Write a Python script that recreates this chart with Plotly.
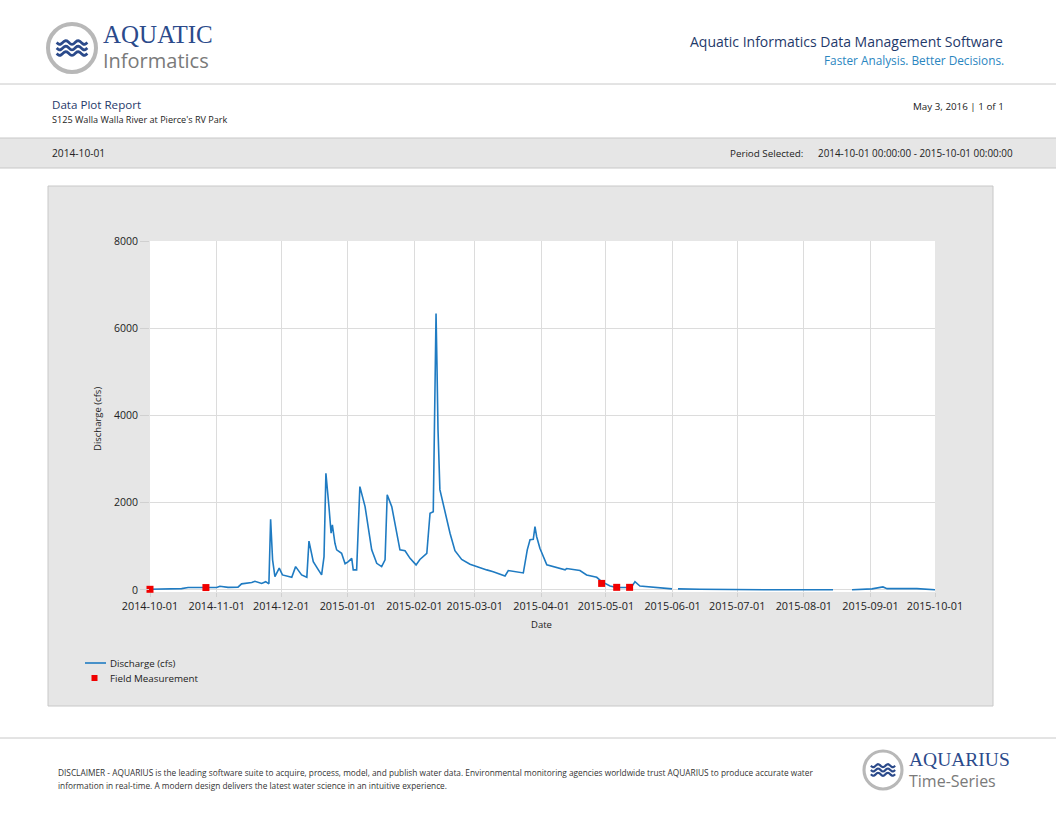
import numpy as np
import plotly.graph_objects as go

W, H = 1056, 816

# discharge series (None = gap in record)
dates = [
    '2014-10-01', '2014-10-15 17:00', '2014-10-18 17:00', '2014-10-27 10:00', '2014-11-01',
    '2014-11-02 12:00', '2014-11-06 07:00', '2014-11-10 22:00', '2014-11-12 14:00', '2014-11-17 07:00',
    '2014-11-18 19:00', '2014-11-21 22:00', '2014-11-23 19:00', '2014-11-25 07:00', '2014-11-26 02:00',
    '2014-11-27', '2014-11-28 02:00', '2014-11-30 02:00', '2014-12-01 14:00', '2014-12-05 22:00',
    '2014-12-07 17:00', '2014-12-10 12:00', '2014-12-12 22:00', '2014-12-13 22:00', '2014-12-15 22:00',
    '2014-12-18 07:00', '2014-12-19 19:00', '2014-12-20 22:00', '2014-12-21 19:00', '2014-12-23 05:00',
    '2014-12-24 05:00', '2014-12-24 19:00', '2014-12-26', '2014-12-26 19:00', '2014-12-29 02:00',
    '2014-12-30 17:00', '2015-01-01 05:00', '2015-01-02 19:00', '2015-01-03 12:00', '2015-01-05 02:00',
    '2015-01-06 14:00', '2015-01-09', '2015-01-10 12:00', '2015-01-12 02:00', '2015-01-14 10:00',
    '2015-01-16 17:00', '2015-01-18 07:00', '2015-01-19 07:00', '2015-01-21 10:00', '2015-01-23 17:00',
    '2015-01-25 05:00', '2015-01-27 14:00', '2015-01-29 22:00', '2015-02-01 17:00', '2015-02-03 12:00',
    '2015-02-06 17:00', '2015-02-08 05:00', '2015-02-09 17:00', '2015-02-10 12:00', '2015-02-11',
    '2015-02-11 10:00', '2015-02-11 22:00', '2015-02-12 19:00', '2015-02-15 05:00', '2015-02-17 12:00',
    '2015-02-19 19:00', '2015-02-22 22:00', '2015-02-26 19:00', '2015-03-01 22:00', '2015-03-06 14:00',
    '2015-03-09 14:00', '2015-03-15 02:00', '2015-03-16 14:00', '2015-03-22', '2015-03-23 14:00',
    '2015-03-25 10:00', '2015-03-26 17:00', '2015-03-28 05:00', '2015-03-29', '2015-03-29 19:00',
    '2015-03-31 07:00', '2015-04-03 12:00', '2015-04-07 07:00', '2015-04-12', '2015-04-12 17:00',
    '2015-04-15 19:00', '2015-04-18 22:00', '2015-04-22', '2015-04-26 17:00', '2015-04-29',
    '2015-05-02 22:00', '2015-05-06', '2015-05-12 05:00', '2015-05-13 02:00', '2015-05-14 12:00',
    '2015-05-16 19:00', '2015-05-21 12:00', '2015-05-31 17:00', '2015-06-01 12:00', '2015-06-03 12:00',
    '2015-06-13 17:00', '2015-07-15', '2015-08-14 14:00', '2015-08-18', '2015-08-23 10:00',
    '2015-09-01 17:00', '2015-09-06 19:00', '2015-09-08 17:00', '2015-09-22 14:00', '2015-10-01',
]
discharge = [
    15, 30, 55, 60, 55,
    85, 60, 65, 140, 170,
    200, 150, 190, 140, 1620,
    690, 305, 500, 345, 290,
    535, 345, 290, 1120, 650,
    460, 345, 765, 2675, 1910,
    1300, 1490, 1070, 920, 840,
    600, 650, 725, 460, 460,
    2370, 1910, 1450, 920, 610,
    535, 690, 2180, 1910, 1300,
    920, 900, 725, 575, 700,
    840, 1760, 1795, 4810, 6340,
    5200, 3670, 2300, 1750, 1300,
    900, 700, 590, 535, 460,
    420, 320, 445, 400, 390,
    920, 1150, 1160, 1450, 1220,
    955, 575, 520, 460, 490,
    475, 445, 345, 290, 190,
    90, 55, 55, 80, 190,
    90, 70, 25, None, 25,
    15, 5, 5, None, 5,
    25, 70, 30, 30, 5,
]

# field measurements
fm_dates = ['2014-10-01', '2014-10-27', '2015-04-29', '2015-05-06', '2015-05-12']
fm_values = [15, 55, 150, 60, 60]

month_ticks = ['2014-10-01', '2014-11-01', '2014-12-01', '2015-01-01', '2015-02-01',
               '2015-03-01', '2015-04-01', '2015-05-01', '2015-06-01', '2015-07-01',
               '2015-08-01', '2015-09-01', '2015-10-01']
y_ticks = [0, 2000, 4000, 6000, 8000]

NAVY = '#2b4a8b'
LINE_BLUE = '#1f7bc2'
RED = '#f00000'
GREY_LINE = '#c8c8c8'
FONT = 'Open Sans'


def fx(x):
    return x / W


def fy(y):
    return 1 - y / H


fig = go.Figure()
fig.add_trace(go.Scatter(
    x=dates, y=discharge, mode='lines', name='Discharge (cfs)',
    line=dict(color=LINE_BLUE, width=1.6), connectgaps=False,
))
fig.add_trace(go.Scatter(
    x=fm_dates, y=fm_values, mode='markers', name='Field Measurement',
    marker=dict(symbol='square', size=7, color=RED), cliponaxis=False,
))

P = dict(xref='paper', yref='paper')
shapes = []
# header / footer rules and grey band
shapes.append(dict(type='rect', x0=0, x1=1, y0=fy(168), y1=fy(138), fillcolor='#e6e6e6',
                   line=dict(width=0), layer='below', **P))
for yy in (84, 138, 168, 738):
    shapes.append(dict(type='line', x0=0, x1=1, y0=fy(yy), y1=fy(yy), line=dict(color=GREY_LINE, width=1),
                       layer='below', **P))
# chart panel
shapes.append(dict(type='rect', x0=fx(48), x1=fx(993), y0=fy(706), y1=fy(186), fillcolor='#e6e6e6',
                   line=dict(color=GREY_LINE, width=1), layer='below', **P))
shapes.append(dict(type='rect', x0=fx(150), x1=fx(935), y0=fy(592), y1=fy(241), fillcolor='white',
                   line=dict(width=0), layer='below', **P))
# legend keys (hand placed, the built-in legend rows are too tall)
shapes.append(dict(type='line', x0=fx(85), x1=fx(106), y0=fy(663), y1=fy(663),
                   line=dict(color=LINE_BLUE, width=1.6), **P))
shapes.append(dict(type='rect', x0=fx(91.5), x1=fx(97.5), y0=fy(681), y1=fy(675), fillcolor=RED,
                   line=dict(width=0), **P))


def logo(cx, cy, r, scale):
    out = [dict(type='circle', x0=fx(cx - r), x1=fx(cx + r), y0=fy(cy + r), y1=fy(cy - r),
                fillcolor='white', line=dict(color='#b8b8b8', width=4 * scale), **P)]
    for dy in (-5.5, 0, 5.5):
        t = np.linspace(0, 1, 25)
        xs = cx - 0.64 * r + t * 1.28 * r
        ys = cy + dy * scale + 1.9 * scale * np.sin(t * 2 * np.pi * 2.5)
        path = 'M ' + ' L '.join(f'{fx(a):.5f},{fy(b):.5f}' for a, b in zip(xs, ys))
        out.append(dict(type='path', path=path, line=dict(color=NAVY, width=2.8 * scale), **P))
    return out


shapes += logo(72, 48, 24, 1.0)
shapes += logo(883, 770, 19, 0.78)

ann = []


def text(x, y, s, size, color='#222222', anchor='left', family=FONT, **kw):
    ann.append(dict(x=fx(x), y=fy(y), text=s, showarrow=False,
                    xanchor=anchor, yanchor='middle', font=dict(size=size, color=color, family=family),
                    **P, **kw))


text(101, 35, 'AQUATIC', 25, NAVY, family='Liberation Serif')
text(101, 61, 'Informatics', 20, '#7a7a7a')
text(1005, 41, 'Aquatic Informatics Data Management Software', 14, '#1f3a6b', 'right')
text(1006, 60, 'Faster Analysis. Better Decisions.', 11.8, '#2a86bf', 'right')
text(50, 104, 'Data Plot Report', 11.6, '#1f3a6b')
text(50, 119, "S125 Walla Walla River at Pierce's RV Park", 9.1)
text(1006, 107, 'May 3, 2016 | 1 of 1', 9.8, anchor='right')
text(50, 153, '2014-10-01', 10.2)
text(728, 153, 'Period Selected:', 9.8)
text(1015, 153, '2014-10-01 00:00:00 - 2015-10-01 00:00:00', 9.9, anchor='right')
text(98, 419, 'Discharge (cfs)', 9.5, textangle=-90, anchor='center')
text(541, 624, 'Date', 9.5, anchor='center')
text(108, 663, 'Discharge (cfs)', 9.7)
text(108, 678, 'Field Measurement', 9.8)
text(56, 772, 'DISCLAIMER - AQUARIUS is the leading software suite to acquire, process, model, and publish water data. '
     'Environmental monitoring agencies worldwide trust AQUARIUS to produce accurate water', 8.3, '#333333')
text(56, 785, 'information in real-time. A modern design delivers the latest water science in an intuitive experience.',
     8.3, '#333333')
text(907, 759, 'AQUARIUS', 19.5, NAVY, family='Liberation Serif')
text(907, 781, 'Time-Series', 16, '#7a7a7a')

fig.update_layout(
    width=W, height=H, margin=dict(l=0, r=0, t=0, b=0, autoexpand=False),
    paper_bgcolor='white', plot_bgcolor='rgba(0,0,0,0)',
    font=dict(family=FONT, size=10, color='#222222'),
    shapes=shapes, annotations=ann,
    showlegend=False,
    xaxis=dict(domain=[fx(150), fx(935)], range=['2014-10-01', '2015-10-01'], type='date',
               tickvals=month_ticks, tickformat='%Y-%m-%d', showgrid=True, gridcolor='#dcdcdc',
               ticks='outside', ticklen=4, tickcolor='#d0d0d0', zeroline=False, showline=False,
               tickfont=dict(size=10.8), automargin=False),
    yaxis=dict(domain=[fy(591.7), fy(241)], range=[-40, 8000], tickvals=y_ticks,
               showgrid=True, gridcolor='#dcdcdc', ticks='outside', ticklen=9, tickcolor='#d0d0d0',
               zeroline=False, showline=False, tickfont=dict(size=10.5), automargin=False),
)

fig.write_html("out.html", config={'displayModeBar': False},
               post_script="document.body.style.margin = '0px';")
